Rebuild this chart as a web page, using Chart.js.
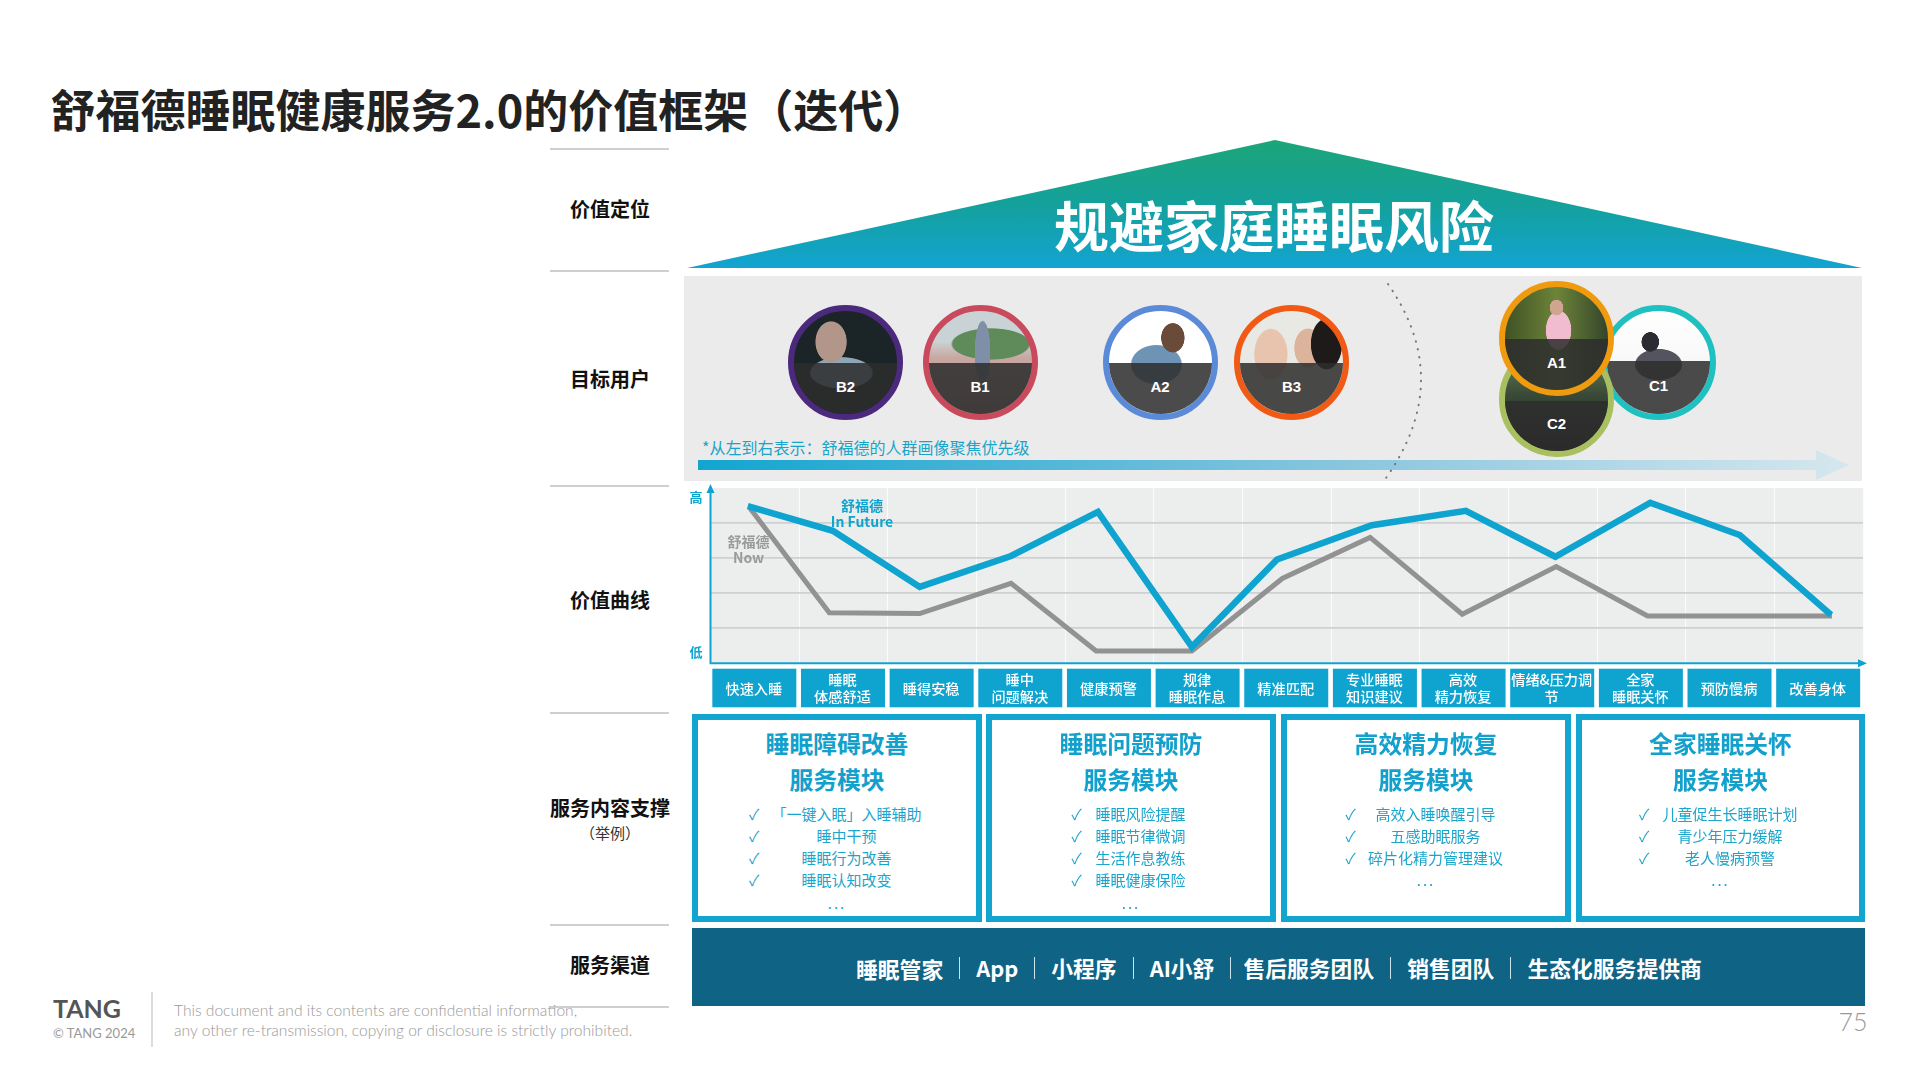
<!DOCTYPE html>
<html lang="zh">
<head>
<meta charset="utf-8">
<title>舒福德睡眠健康服务2.0的价值框架</title>
<script src="https://cdn.jsdelivr.net/npm/chart.js@4"></script>
<style>
  html, body { margin: 0; padding: 0; background: #fff; }
  #page { position: relative; width: 1920px; height: 1080px; overflow: hidden; font-family: "Noto Sans CJK SC", "Noto Sans", sans-serif; }
  #page > * { position: absolute; }
  .t { position: absolute; transform: translate(-50%, -50%); white-space: nowrap; line-height: 1; }
  .rule { left: 550px; width: 119px; height: 2px; background: #cfcfcf; }
  .module { box-sizing: border-box; top: 714px; height: 208px; border: 6px solid #12a5d0; background: #fff; }
  .person { box-sizing: border-box; width: 115px; height: 115px; border-radius: 50%; border: 6px solid; overflow: hidden; background-color: #333; }
  .person i { position: absolute; left: 0; right: 0; bottom: 0; background: rgba(45,45,45,.86); }
  .person b { position: absolute; left: 0; right: 0; text-align: center; color: #fff; font: 700 15px "Liberation Sans", sans-serif; }
  #channels { left: 692px; top: 928px; width: 1173px; height: 78px; background: #0f6385; color: #fff; display: flex; justify-content: flex-start; align-items: center; font-size: 21.8px; font-weight: 700; padding-left: 164px; padding-top: 2px; box-sizing: border-box; }
  #channels span + span { margin-left: 16px; padding-left: 16px; border-left: 1px solid #cfe3ec; line-height: 22px; }
  #channels span:nth-child(5) { padding-left: 12px; }
</style>
</head>
<body>
<div id="page">
  <svg width="1920" height="1080" style="left:0;top:0">
    <defs>
      <linearGradient id="roof" x1="0" y1="0" x2="0" y2="1">
        <stop offset="0" stop-color="#1ca578"/>
        <stop offset="0.5" stop-color="#14a19c"/>
        <stop offset="1" stop-color="#12a4d2"/>
      </linearGradient>
    </defs>
    <polygon points="687,268 1275,140 1862,268" fill="url(#roof)"/>
    <rect x="684" y="276" width="1178" height="205" fill="#ebebeb"/>
  </svg>
  <div style="left:698px;top:450px;width:1151px;height:30px;background:linear-gradient(90deg,#12a5d0,#86c5de 55%,#d6e7ee);clip-path:polygon(0 10px,1118px 10px,1118px 0,100% 15px,1118px 100%,1118px 20px,0 20px)"></div>
  <svg width="1920" height="1080" style="left:0;top:0">
    <path d="M1388 284 Q1455 380 1386 478" fill="none" stroke="#777" stroke-width="2" stroke-linecap="round" stroke-dasharray="0.5 7.5"/>
  </svg>
  <div id="people" style="left:0;top:0"></div>
  <div style="left:710px;top:480px"><canvas id="curve" width="1200" height="240" style="position:absolute;left:-30px;top:0;width:1200px;height:240px"></canvas></div>
  <div id="channels"></div>
</div>

<script>
const categories = ['快速入睡', ['睡眠', '体感舒适'], '睡得安稳', ['睡中', '问题解决'], '健康预警', ['规律', '睡眠作息'], '精准匹配', ['专业睡眠', '知识建议'], ['高效', '精力恢复'], ['情绪&压力调', '节'], ['全家', '睡眠关怀'], '预防慢病', '改善身体'];

// x in category widths from the y axis
const futureX = [0.42, 1.38, 2.36, 3.39, 4.37, 5.43, 6.39, 7.46, 8.52, 9.53, 10.6, 11.61, 12.64];
const futureY = [4.48, 3.78, 2.18, 3.06, 4.32, 0.47, 2.96, 3.94, 4.35, 3.04, 4.58, 3.66, 1.38];
const nowX = [0.45, 1.34, 2.36, 3.39, 4.35, 5.43, 6.45, 7.44, 8.48, 9.54, 10.57, 11.61, 12.65];
const nowY = [4.41, 1.44, 1.42, 2.28, 0.35, 0.35, 2.42, 3.59, 1.40, 2.76, 1.35, 1.35, 1.35];

const sections = ['价值定位', '目标用户', '价值曲线', '服务内容支撑', '服务渠道'];
const moduleTitles = ['睡眠障碍改善', '睡眠问题预防', '高效精力恢复', '全家睡眠关怀'];
const moduleItems = [
  ['「一键入眠」入睡辅助', '睡中干预', '睡眠行为改善', '睡眠认知改变'],
  ['睡眠风险提醒', '睡眠节律微调', '生活作息教练', '睡眠健康保险'],
  ['高效入睡唤醒引导', '五感助眠服务', '碎片化精力管理建议'],
  ['儿童促生长睡眠计划', '青少年压力缓解', '老人慢病预警']
];
const channels = ['睡眠管家', 'App', '小程序', 'AI小舒', '售后服务团队', '销售团队', '生态化服务提供商'];

const page = document.getElementById('page');

function text(parent, str, x, y, css) {
  const el = document.createElement('div');
  el.className = 't';
  el.textContent = str;
  el.style.cssText = 'left:' + x + 'px;top:' + y + 'px;' + (css || '');
  parent.appendChild(el);
  return el;
}

// title and roof text
text(page, '舒福德睡眠健康服务2.0的价值框架（迭代）', 50.5, 108, 'font-size:45px;font-weight:700;color:#222;transform:translateY(-50%)');
text(page, '规避家庭睡眠风险', 1274, 222.5, 'font-size:55px;font-weight:700;color:#fff');

// left column
[148, 270, 485, 712, 924, 1006].forEach(y => {
  const r = document.createElement('div');
  r.className = 'rule';
  r.style.top = y + 'px';
  page.appendChild(r);
});
const sectionY = [209, 379, 600, 807.5, 965];
sections.forEach((s, i) => text(page, s, 610, sectionY[i], 'font-size:20px;font-weight:700;color:#111'));
text(page, '（举例）', 610, 832, 'font-size:15px;color:#333');

// target users, photos are only rough colour blobs
const people = [
  { name: 'C1', x: 1658, y: 362, c: '#1fc0c0', band: 53, ty: 20, bg: 'radial-gradient(ellipse 9px 10px at 42% 30%,#2b2b33 95%,transparent),radial-gradient(ellipse 24px 16px at 50% 52%,#54545e 95%,transparent),linear-gradient(#fff,#f1f1f1)' },
  { name: 'C2', x: 1556, y: 399, c: '#a8c060', band: 50, ty: 19, bg: 'linear-gradient(#6b8a5a,#3a4a38 45%,#1c1c1c)' },
  { name: 'A1', x: 1556, y: 338, c: '#f09a10', band: 51, ty: 19, bg: 'radial-gradient(ellipse 7px 8px at 50% 20%,#d0a58f 95%,transparent),radial-gradient(ellipse 13px 20px at 52% 42%,#f2bcd0 95%,transparent),linear-gradient(90deg,#3f5226,#6d8438 50%,#33452b)' },
  { name: 'B2', x: 845, y: 362, c: '#4b2a7d', band: 51, ty: 19, bg: 'radial-gradient(ellipse 16px 21px at 36% 30%,#b2968a 95%,transparent),radial-gradient(ellipse 32px 16px at 46% 60%,#8fa6b6 95%,transparent),#1b2528' },
  { name: 'B1', x: 979.5, y: 362, c: '#c94a5c', band: 51, ty: 19, bg: 'radial-gradient(ellipse 8px 32px at 52% 40%,#7f8fa8 95%,transparent),radial-gradient(ellipse 40px 16px at 60% 32%,#5f8a5a 95%,transparent),linear-gradient(#c9d2d4 30%,#c9a8a2 45%,#a09088)' },
  { name: 'A2', x: 1159.5, y: 362, c: '#5b8ad8', band: 51, ty: 19, bg: 'radial-gradient(ellipse 12px 15px at 62% 26%,#6a4a38 95%,transparent),radial-gradient(ellipse 26px 20px at 46% 52%,#6f93b4 95%,transparent),#fff' },
  { name: 'B3', x: 1291, y: 362, c: '#f05a14', band: 51, ty: 19, bg: 'radial-gradient(ellipse 16px 26px at 84% 32%,#1f1a1a 95%,transparent),radial-gradient(ellipse 14px 20px at 66% 36%,#dcb49c 95%,transparent),radial-gradient(ellipse 17px 26px at 30% 42%,#e8c4ae 95%,transparent),#e8e8e4' }
];
const holder = document.getElementById('people');
people.forEach(p => {
  const d = document.createElement('div');
  d.className = 'person';
  d.style.cssText = 'position:absolute;left:' + (p.x - 57) + 'px;top:' + (p.y - 57) + 'px;border-color:' + p.c + ';background:' + p.bg;
  d.innerHTML = '<i style="height:' + p.band + 'px"></i><b style="bottom:' + p.ty + 'px">' + p.name + '</b>';
  holder.appendChild(d);
});
text(page, '*从左到右表示：舒福德的人群画像聚焦优先级', 702, 446.5, 'font-size:16px;color:#19a5c9;transform:translateY(-50%)');

// service modules
const moduleLeft = [692, 986, 1281, 1575.5];
const moduleCheck = [62, 90.5, 69.5, 68.5];
moduleTitles.forEach((m, i) => {
  const box = document.createElement('div');
  box.className = 'module';
  box.style.left = moduleLeft[i] + 'px';
  box.style.width = '289.5px';
  page.appendChild(box);
  const mid = moduleLeft[i] + 145;
  const css = 'font-size:23.8px;font-weight:700;color:#12a0cc';
  text(page, m, mid, 743, css);
  text(page, '服务模块', mid, 779, css);
  const items = moduleItems[i];
  items.forEach((it, k) => {
    const y = 812.5 + k * 22;
    text(page, '✓', moduleLeft[i] + moduleCheck[i], y, 'font-size:15px;color:#1aa5cc');
    text(page, it, moduleLeft[i] + 154.5, y, 'font-size:15px;color:#1aa5cc');
  });
  text(page, '...', mid, 812.5 + items.length * 22 + (items.length == 4 ? 1 : 0), 'font-size:15px;letter-spacing:2px;color:#1aa5cc');
});

// channels bar
const bar = document.getElementById('channels');
channels.forEach(c => {
  const s = document.createElement('span');
  s.textContent = c;
  bar.appendChild(s);
});

// footer
text(page, 'TANG', 53, 1008, 'font:700 25px Lato,sans-serif;color:#555;transform:translateY(-50%)');
text(page, '© TANG 2024', 53, 1033, 'font:400 13px Lato,sans-serif;color:#999;transform:translateY(-50%)');
const sep = document.createElement('div');
sep.style.cssText = 'left:151px;top:992px;width:2px;height:55px;background:#dcdcdc';
page.appendChild(sep);
text(page, 'This document and its contents are confidential information,', 174, 1010, 'font:300 15.6px Lato,sans-serif;color:#999;transform:translateY(-50%)');
text(page, 'any other re-transmission, copying or disclosure is strictly prohibited.', 174, 1029.5, 'font:300 15.6px Lato,sans-serif;color:#999;transform:translateY(-50%)');
text(page, '75', 1853, 1021, 'font:300 25px Lato,sans-serif;color:#999');

// value curve
const BLUE = '#0fa3cf';
const GREY = '#929292';

const curveDecor = {
  id: 'curveDecor',
  beforeDraw(chart) {
    const { ctx, chartArea: a, scales } = chart;
    ctx.save();
    ctx.fillStyle = '#eceded';
    ctx.fillRect(a.left, a.top, a.right - a.left, a.bottom - a.top);
    // tiles behind the tick labels
    ctx.fillStyle = BLUE;
    categories.forEach((c, i) => {
      const px = scales.x.getPixelForTick(i);
      ctx.fillRect(px - 41.5 - 1, a.bottom + 5.4, 84, 38.6);
    });
    ctx.restore();
  },
  afterDraw(chart) {
    const { ctx, chartArea: a } = chart;
    ctx.save();
    ctx.strokeStyle = BLUE;
    ctx.fillStyle = BLUE;
    ctx.lineWidth = 2;
    ctx.beginPath();
    ctx.moveTo(a.left, a.top + 4);
    ctx.lineTo(a.left, a.bottom);
    ctx.lineTo(a.right + 1, a.bottom);
    ctx.stroke();
    ctx.beginPath();
    ctx.moveTo(a.left, a.top - 4);
    ctx.lineTo(a.left - 4, a.top + 5);
    ctx.lineTo(a.left + 4, a.top + 5);
    ctx.closePath();
    ctx.moveTo(a.right + 4, a.bottom);
    ctx.lineTo(a.right - 5, a.bottom - 4);
    ctx.lineTo(a.right - 5, a.bottom + 4);
    ctx.closePath();
    ctx.fill();

    ctx.textAlign = 'center';
    ctx.textBaseline = 'middle';
    ctx.font = '700 13px "Noto Sans CJK SC"';
    ctx.fillText('高', a.left - 14.5, a.top + 9);
    ctx.fillText('低', a.left - 14.5, a.bottom - 11);
    ctx.font = '700 14px "Noto Sans CJK SC"';
    ctx.fillText('舒福德', a.left + 151.5, a.top + 18);
    ctx.fillText('In Future', a.left + 151.5, a.top + 34);
    ctx.fillStyle = '#9a9a9a';
    ctx.fillText('舒福德', a.left + 38, a.top + 54);
    ctx.fillText('Now', a.left + 38, a.top + 70);
    ctx.restore();
  }
};

new Chart(document.getElementById('curve'), {
  type: 'line',
  data: {
    labels: categories,
    datasets: [
      { label: '舒福德 In Future', xAxisID: 'xv', data: futureX.map((x, i) => ({ x: x, y: futureY[i] })), borderColor: BLUE, borderWidth: 6.5, borderJoinStyle: 'miter', pointRadius: 0, tension: 0 },
      { label: '舒福德 Now', xAxisID: 'xv', data: nowX.map((x, i) => ({ x: x, y: nowY[i] })), borderColor: GREY, borderWidth: 5, borderJoinStyle: 'miter', pointRadius: 0, tension: 0 }
    ]
  },
  options: {
    responsive: false,
    animation: false,
    devicePixelRatio: 1,
    layout: { padding: { left: 30.5, right: 17, top: 8, bottom: 0 } },
    plugins: { legend: { display: false }, tooltip: { enabled: false } },
    scales: {
      x: {
        offset: true,
        afterFit(s) { s.height = 56.7; },
        border: { display: false },
        grid: { offset: true, color: '#fbfbfb', lineWidth: 1, drawTicks: false },
        ticks: {
          autoSkip: false, maxRotation: 0, minRotation: 0, padding: 16, crossAlign: 'center', color: '#fff',
          labelOffset: -1,
          font: { family: '"Noto Sans CJK SC"', size: 14.2, weight: 500, lineHeight: 1.24 }
        }
      },
      xv: { type: 'linear', display: false, min: 0, max: 13 },
      y: {
        min: 0, max: 5,
        afterFit(s) { s.width = 0; },
        border: { display: false },
        grid: { color: c => (c.tick.value > 0 && c.tick.value < 5 ? '#cfd1d1' : 'transparent'), lineWidth: 1.8, drawTicks: false },
        ticks: { display: false, stepSize: 1 }
      }
    }
  },
  plugins: [curveDecor]
});
</script>
</body>
</html>
